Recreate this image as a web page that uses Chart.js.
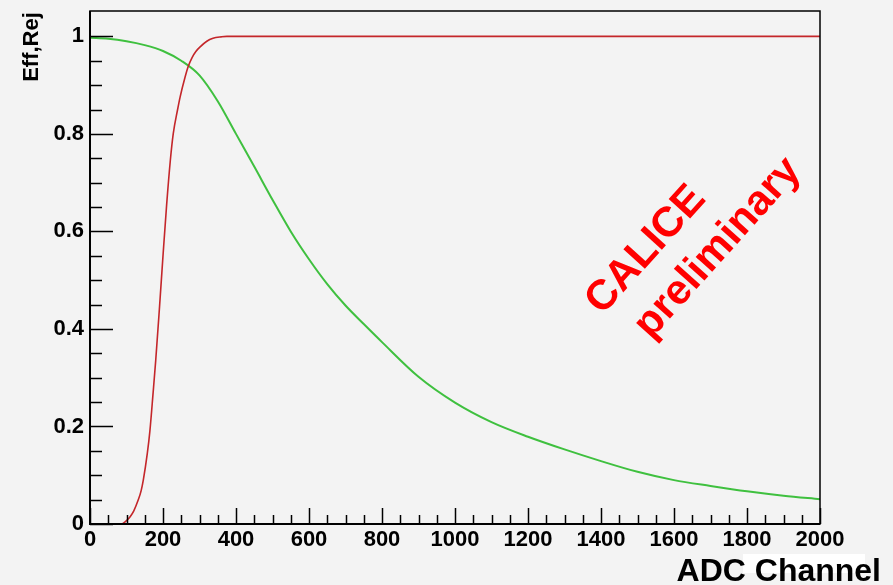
<!DOCTYPE html>
<html>
<head>
<meta charset="utf-8">
<script src="https://cdn.jsdelivr.net/npm/chart.js@4.4.1/dist/chart.umd.min.js"></script>
<style>
html,body{margin:0;padding:0;background:#f3f3f3;}
#wrap{width:893px;height:585px;position:relative;}
</style>
</head>
<body>
<div id="wrap"><canvas id="c" width="893" height="585"></canvas></div>
<script>
// ---- data ----
const redX = [0, 85, 100, 110, 120, 132, 140, 146, 157, 164, 173, 180, 190, 200, 210, 220, 228, 240, 247, 260, 269, 280, 290, 301, 320, 337, 360, 375, 400, 2000];
const redY = [0, 0, 0.007, 0.015, 0.027, 0.049, 0.068, 0.09, 0.145, 0.19, 0.27, 0.335, 0.44, 0.55, 0.655, 0.745, 0.80, 0.85, 0.876, 0.915, 0.938, 0.957, 0.969, 0.978, 0.99, 0.996, 0.999, 1, 1, 1];
const greenX = [0, 50, 100, 150, 200, 250, 300, 350, 400, 450, 500, 550, 600, 650, 700, 750, 800, 900, 1000, 1100, 1200, 1300, 1400, 1500, 1600, 1700, 1800, 1900, 2000];
const greenY = [0.997, 0.995, 0.99, 0.982, 0.97, 0.95, 0.92, 0.867, 0.80, 0.733, 0.665, 0.600, 0.543, 0.492, 0.448, 0.41, 0.373, 0.302, 0.249, 0.209, 0.179, 0.153, 0.129, 0.107, 0.090, 0.078, 0.067, 0.058, 0.051];
const xTicks = [0, 200, 400, 600, 800, 1000, 1200, 1400, 1600, 1800, 2000];
const yTicks = [0, 0.2, 0.4, 0.6, 0.8, 1];
const xTitle = 'ADC Channel';
const yTitle = 'Eff,Rej';
const watermark = ['CALICE', 'preliminary'];

const FONT = "'Liberation Sans', Arial, Helvetica, sans-serif";

const overlay = {
  id: 'overlay',
  beforeDraw(chart) {
    const ctx = chart.ctx;
    ctx.save();
    ctx.fillStyle = '#f3f3f3';
    ctx.fillRect(0, 0, chart.width, chart.height);
    ctx.restore();
  },
  afterDatasetsDraw(chart) {
    const ctx = chart.ctx;
    const a = chart.chartArea;
    const xs = chart.scales.x, ys = chart.scales.y;
    ctx.save();
    ctx.strokeStyle = '#000';
    ctx.lineWidth = 1.5;
    ctx.strokeRect(a.left, a.top, a.right - a.left, a.bottom - a.top);
    ctx.lineWidth = 2;
    ctx.beginPath();
    ctx.moveTo(a.left, a.top); ctx.lineTo(a.left, a.bottom); ctx.lineTo(a.right, a.bottom);
    ctx.stroke();
    ctx.lineWidth = 1.5;
    ctx.beginPath();
    for (let v = 0; v <= 2000; v += 50) {
      const px = Math.round(xs.getPixelForValue(v)) + 0.5;
      const len = (v % 200 === 0) ? 16 : 9;
      ctx.moveTo(px, a.bottom); ctx.lineTo(px, a.bottom - len);
    }
    for (let i = 0; i <= 20; i++) {
      const v = i * 0.05;
      const py = Math.round(ys.getPixelForValue(v)) + 0.5;
      const len = (i % 4 === 0) ? 23 : 12;
      ctx.moveTo(a.left, py); ctx.lineTo(a.left + len, py);
    }
    ctx.stroke();
    ctx.restore();
  },
  afterDraw(chart) {
    const ctx = chart.ctx;
    ctx.save();
    ctx.fillStyle = '#000';
    ctx.font = 'bold 22px ' + FONT;
    ctx.translate(32, 47);
    ctx.rotate(-Math.PI / 2);
    ctx.textAlign = 'center';
    ctx.textBaseline = 'middle';
    ctx.fillText(yTitle, 0, 0);
    ctx.restore();

    ctx.save();
    ctx.fillStyle = '#ffffff';
    ctx.fillRect(743, 554, 122, 19);
    ctx.fillStyle = '#000';
    ctx.font = 'bold 32px ' + FONT;
    ctx.textAlign = 'right';
    ctx.textBaseline = 'alphabetic';
    ctx.fillText(xTitle, 881, 581);
    ctx.restore();

    ctx.save();
    ctx.fillStyle = '#ff0000';
    ctx.font = 'bold 42px ' + FONT;
    ctx.textAlign = 'center';
    ctx.textBaseline = 'middle';
    ctx.save();
    ctx.translate(646, 250);
    ctx.rotate(-48 * Math.PI / 180);
    ctx.fillText(watermark[0], 0, 0);
    ctx.restore();
    ctx.save();
    ctx.translate(718, 248);
    ctx.rotate(-48 * Math.PI / 180);
    ctx.fillText(watermark[1], 0, 0);
    ctx.restore();
    ctx.restore();
  }
};

new Chart(document.getElementById('c'), {
  type: 'line',
  data: {
    datasets: [
      {
        label: 'Rej',
        data: redX.map((x, i) => ({ x: x, y: redY[i] })),
        borderColor: '#c4262a',
        borderWidth: 1.6,
        pointRadius: 0,
        cubicInterpolationMode: 'monotone',
        fill: false
      },
      {
        label: 'Eff',
        data: greenX.map((x, i) => ({ x: x, y: greenY[i] })),
        borderColor: '#3fc03f',
        borderWidth: 2,
        pointRadius: 0,
        cubicInterpolationMode: 'monotone',
        fill: false
      }
    ]
  },
  options: {
    responsive: false,
    animation: false,
    devicePixelRatio: 1,
    layout: { padding: { left: 0, right: 73, top: 11, bottom: 0 } },
    plugins: { legend: { display: false }, tooltip: { enabled: false } },
    scales: {
      x: {
        type: 'linear',
        min: 0, max: 2000,
        grid: { display: false, drawTicks: false },
        border: { display: false },
        afterFit(s) { s.height = 61; s.paddingLeft = 0; s.paddingRight = 0; },
        afterBuildTicks(s) { s.ticks = xTicks.map(v => ({ value: v })); },
        ticks: {
          padding: 3,
          color: '#000',
          maxRotation: 0,
          autoSkip: false,
          font: { family: FONT, size: 22, weight: 'bold' },
          callback: v => String(v)
        }
      },
      y: {
        type: 'linear',
        min: 0, max: 1.052,
        grid: { display: false, drawTicks: false },
        border: { display: false },
        afterFit(s) { s.width = 90; s.paddingTop = 0; s.paddingBottom = 0; },
        afterBuildTicks(s) { s.ticks = yTicks.map(v => ({ value: v })); },
        ticks: {
          padding: 6,
          color: '#000',
          autoSkip: false,
          font: { family: FONT, size: 22, weight: 'bold' },
          callback: v => String(+(+v).toFixed(1))
        }
      }
    }
  },
  plugins: [overlay]
});
</script>
</body>
</html>
